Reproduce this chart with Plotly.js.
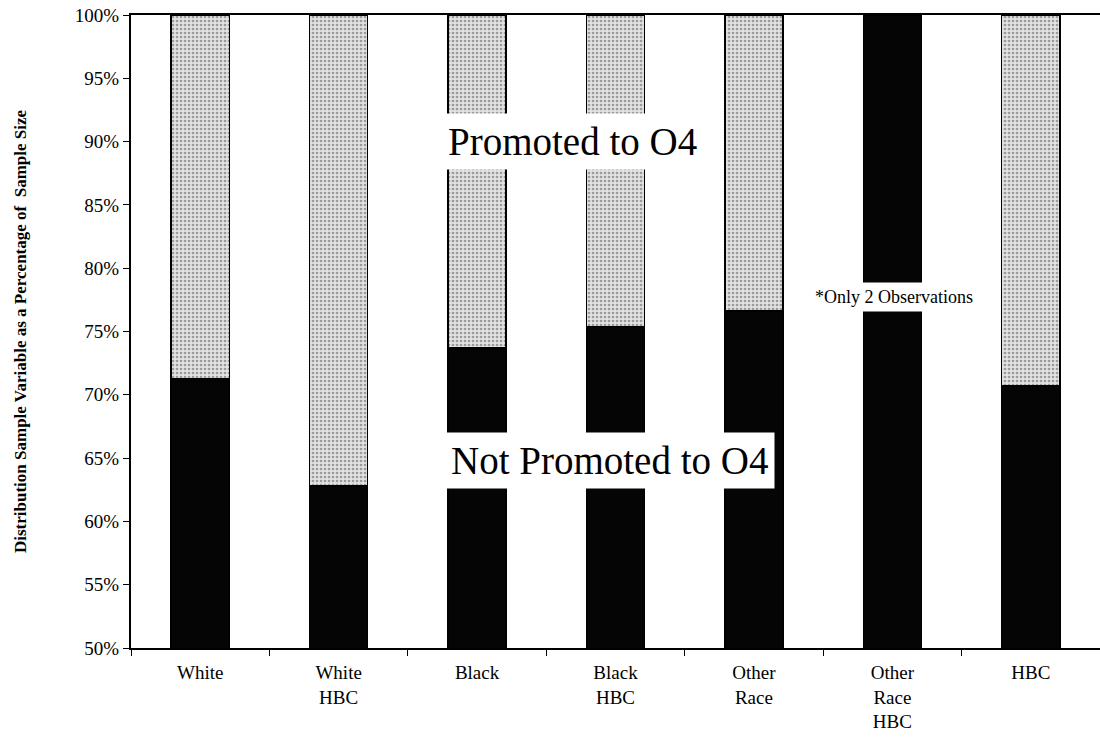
<!DOCTYPE html>
<html>
<head>
<meta charset="utf-8">
<script src="https://cdn.plot.ly/plotly-3.0.1.min.js"></script>
<style>html,body{margin:0;padding:0;background:#fff;}#chart{width:1100px;height:737px;}</style>
</head>
<body>
<div id="chart"></div>
<script>
const categories = ["White", "White<br>HBC", "Black", "Black<br>HBC", "Other<br>Race", "Other<br>Race<br>HBC", "HBC"];
const notPromoted = [71.3, 62.8, 73.7, 75.4, 76.6, 100.0, 70.7];
const promoted = [28.7, 37.2, 26.3, 24.6, 23.4, 0.0, 29.3];
const yTickVals = [50, 55, 60, 65, 70, 75, 80, 85, 90, 95, 100];
const yTickText = ["50%", "55%", "60%", "65%", "70%", "75%", "80%", "85%", "90%", "95%", "100%"];

const serif = "Liberation Serif";

const traces = [
  {
    type: "bar", x: categories, y: notPromoted, name: "Not Promoted to O4",
    width: 0.42,
    marker: { color: "#050505", line: { color: "#000", width: 1.5 } },
    hoverinfo: "skip"
  },
  {
    type: "bar", x: categories, y: promoted, name: "Promoted to O4",
    width: 0.42,
    marker: {
      color: "#dcdcdc",
      line: { color: "#000", width: 1.5 },
      pattern: { shape: ".", fgcolor: "#9a9a9a", bgcolor: "#e2e2e2", size: 4, solidity: 0.35, fillmode: "replace" }
    },
    hoverinfo: "skip"
  }
];

const layout = {
  width: 1100, height: 737,
  margin: { l: 131, r: 0, t: 15, b: 89 },
  paper_bgcolor: "#fff", plot_bgcolor: "#fff",
  barmode: "stack",
  showlegend: false,
  font: { family: serif, color: "#000", size: 19 },
  xaxis: {
    type: "category",
    showline: true, linecolor: "#000", linewidth: 2, mirror: true,
    ticks: "outside", ticklen: 6, tickcolor: "#000", tickson: "boundaries",
    tickfont: { family: serif, size: 19, color: "#000" },
    ticklabelstandoff: 6,
    showgrid: false, zeroline: false, fixedrange: true
  },
  yaxis: {
    range: [50, 100],
    tickvals: yTickVals, ticktext: yTickText,
    showline: true, linecolor: "#000", linewidth: 2,
    ticks: "outside", ticklen: 6, tickcolor: "#000",
    tickfont: { family: serif, size: 19, color: "#000" },
    showgrid: false, zeroline: false, fixedrange: true,
    title: {
      text: "<b>Distribution Sample Variable as a Percentage of  Sample Size</b>",
      font: { family: serif, size: 17, color: "#000" },
      standoff: 44
    }
  },
  annotations: [
    {
      x: 2.69, y: 90.0, xref: "x", yref: "y",
      text: "Promoted to O4", showarrow: false,
      font: { family: serif, size: 39, color: "#000" },
      bgcolor: "#fff", borderpad: 6
    },
    {
      x: 2.96, y: 64.85, xref: "x", yref: "y",
      text: "Not Promoted to O4", showarrow: false,
      font: { family: serif, size: 39, color: "#000" },
      bgcolor: "#fff", borderpad: 6
    },
    {
      x: 5.01, y: 77.7, xref: "x", yref: "y",
      text: "*Only 2 Observations", showarrow: false,
      font: { family: serif, size: 18, color: "#000" },
      bgcolor: "#fff", borderpad: 4
    }
  ]
};

Plotly.newPlot("chart", traces, layout, { displayModeBar: false, staticPlot: true });
</script>
</body>
</html>
